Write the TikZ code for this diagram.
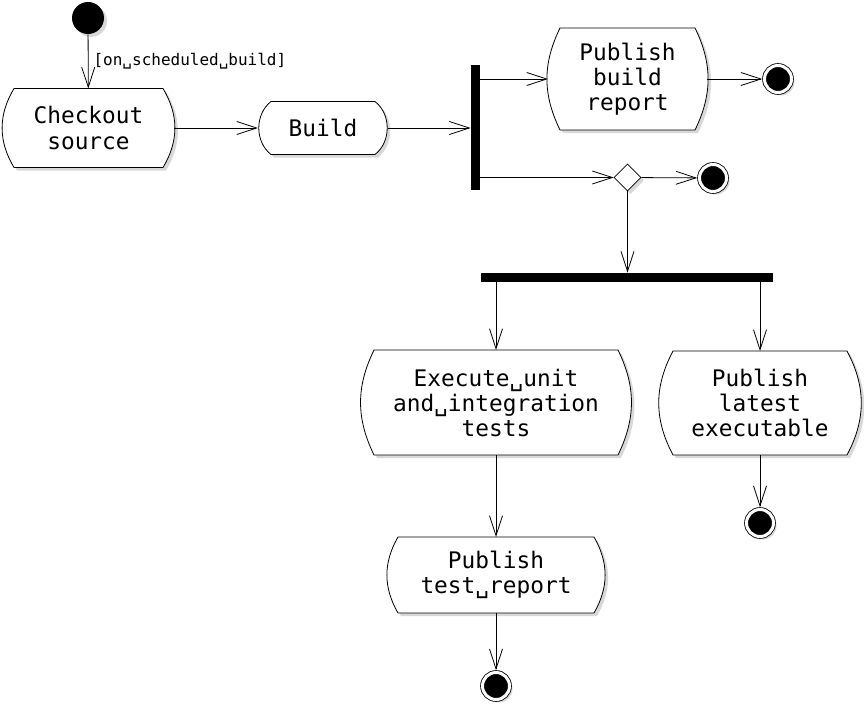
\documentclass[tikz,border=0pt]{standalone}
\usepackage{fontspec}
\setmonofont{DejaVu Sans Mono}
\usetikzlibrary{positioning,shapes.geometric,arrows.meta,shadows,backgrounds}

\begin{document}
\begin{tikzpicture}[x=1pt, y=-1pt, line width=0.8pt,
    >={Straight Barb[length=20pt,width=13pt]},
    shade/.style={drop shadow={shadow xshift=3pt, shadow yshift=-3pt, fill=black!30}},
    action/.style={rectangle, inner sep=0pt, outer ysep=0pt, outer xsep=12pt, align=center,
      font=\ttfamily\fontsize{22.8}{25}\selectfont},
    bar/.style={fill=black, rectangle, inner sep=0pt},
    initial/.style={circle, fill=black, minimum size=32pt, inner sep=0pt, shade},
    final/.style={circle, draw, fill=black, double=white, double distance=3pt,
      minimum size=27pt, inner sep=0pt, outer sep=2.3pt, shade},
    choice/.style={diamond, draw, fill=white, minimum size=27pt, inner sep=0pt, shade},
    guard/.style={font=\ttfamily\fontsize{16}{18}\selectfont, inner xsep=5pt}]
  \useasboundingbox (0,0) rectangle (864,706);

  \node[initial] (start) at (88,18) {};
  \node[action, minimum width=149pt, minimum height=79pt, outer xsep=11pt] (checkout) at (88.5,128) {Checkout\\source};
  \node[action, minimum width=104pt, minimum height=53pt, outer xsep=13pt] (build) at (323,128) {Build};
  \node[bar, minimum width=9pt, minimum height=125pt] (fork1) at (475.5,127.5) {};
  \node[action, minimum width=135pt, minimum height=102pt] (pbr) at (627.5,79) {Publish\\build\\report};
  \node[final] (end1) at (778,79) {};
  \node[choice] (choice) at (627.5,177.5) {};
  \node[final] (end2) at (713,178) {};
  \node[bar, minimum width=292pt, minimum height=9pt] (fork2) at (627,277.5) {};
  \node[action, minimum width=244pt, minimum height=105pt] (exec) at (496,402.5) {Execute␣unit\\and␣integration\\tests};
  \node[action, minimum width=174pt, minimum height=104pt, outer xsep=13pt] (ple) at (760,403) {Publish\\latest\\executable};
  \node[action, minimum width=196pt, minimum height=76pt, outer xsep=10pt] (ptr) at (496,575) {Publish\\test␣report};
  \node[final] (end3) at (496,686) {};
  \node[final] (end4) at (760,523) {};

  % action outlines with curved sides
  \begin{scope}[on background layer]
    \foreach \n/\s/\b in {checkout/11/31, build/13/52, pbr/12/26, exec/12/26, ple/13/28, ptr/10/30}
      \draw[line width=0.8pt, fill=white, shade] ([xshift=\s pt]\n.north west) to[bend right=\b] ([xshift=\s pt]\n.south west)
        -- ([xshift=-\s pt]\n.south east) to[bend right=\b] ([xshift=-\s pt]\n.north east) -- cycle;
  \end{scope}

  \draw[->] (start) -- node[right, guard] {[on␣scheduled␣build]} (checkout);
  \draw[->] (checkout) -- (build);
  \draw[->] (build) -- (build -| fork1.west);
  \draw[->] (fork1.east |- pbr) -- (pbr);
  \draw[->] (pbr) -- (end1);
  \draw[->] (fork1.east |- choice) -- (choice);
  \draw[->] (choice) -- (end2);
  \draw[->] (choice) -- (choice |- fork2.north);
  \draw[->] (fork2.south -| exec) -- (exec);
  \draw[->] (fork2.south -| ple) -- (ple);
  \draw[->] (exec) -- (ptr);
  \draw[->] (ptr) -- (end3);
  \draw[->] (ple) -- (end4);
\end{tikzpicture}
\end{document}
